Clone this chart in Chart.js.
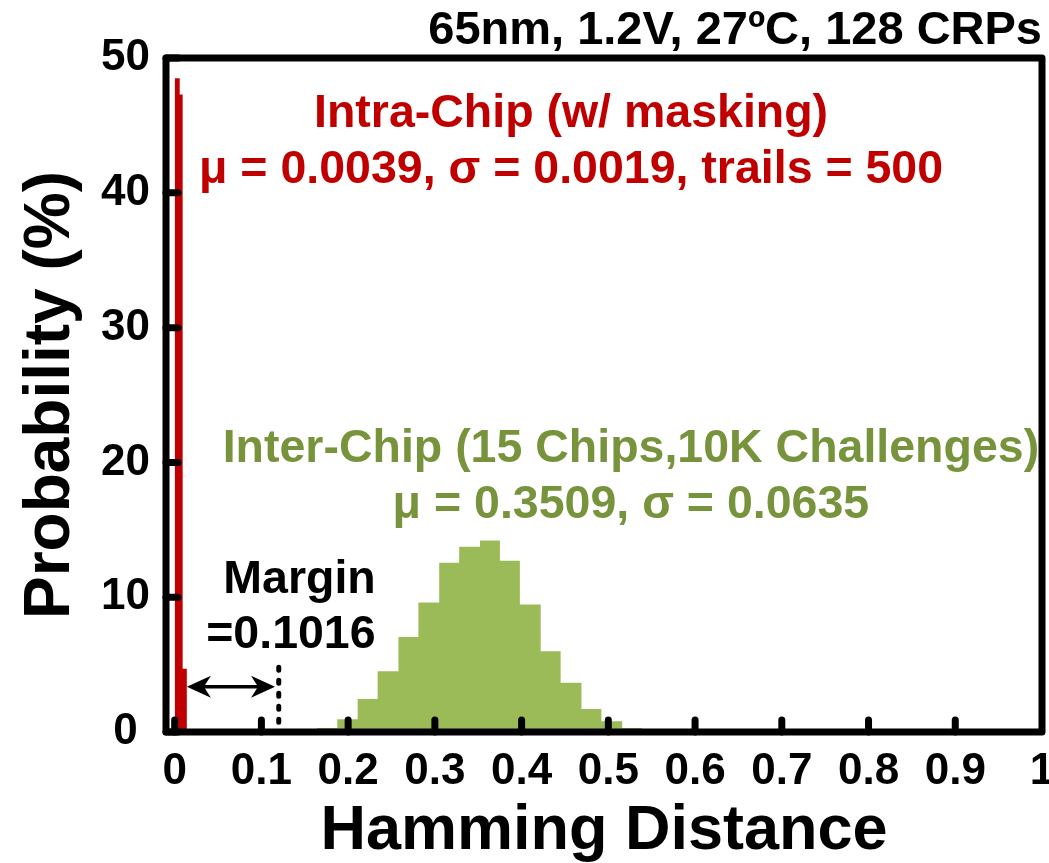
<!DOCTYPE html>
<html>
<head>
<meta charset="utf-8">
<script src="https://cdn.jsdelivr.net/npm/chart.js@4.4.1/dist/chart.umd.min.js"></script>
<style>
  html, body { margin: 0; padding: 0; background: #fff; }
  #wrap { width: 1049px; height: 863px; }
</style>
</head>
<body>
<div id="wrap"><canvas id="hd-chart"></canvas></div>
<script>
// bin edges (Hamming distance) and probability (%) per bin
const intraEdges = [0, 0.0058, 0.0092, 0.0141];
const intraProb = [48.5, 47.3, 4.7];
const interEdges = [0.164, 0.1875, 0.211, 0.234, 0.258, 0.281, 0.305, 0.328, 0.352,
  0.375, 0.398, 0.422, 0.445, 0.469, 0.492, 0.516, 0.539];
const interProb = [0.3, 0.95, 2.45, 4.5, 7.05, 9.6, 12.55, 13.75, 14.2, 12.7, 9.45,
  6.0, 3.65, 1.7, 0.8, 0.3];
const xTicks = [0, 0.1, 0.2, 0.3, 0.4, 0.5, 0.6, 0.7, 0.8, 0.9, 1];
const yTicks = [0, 10, 20, 30, 40, 50];
const margin = [0.0141, 0.1157];

const RED = '#c00000';
const GREEN = '#9bbb59';
const GREEN_TEXT = '#77933c';
const FONT = "'Liberation Sans', Arial, Helvetica, sans-serif";

// left edge of every bin carries its height, last edge closes back to 0
const toSteps = (edges, probs) => edges.map((x, i) => ({ x, y: i < probs.length ? probs[i] : 0 }));

const font = (size) => `bold ${size}px ${FONT}`;

const frame = {
  id: 'frame',
  afterDatasetsDraw(chart) {
    const { ctx, chartArea: a, scales: { x, y } } = chart;
    ctx.save();

    // inward tick marks
    ctx.strokeStyle = '#000';
    ctx.lineCap = 'round';
    ctx.lineWidth = 7;
    xTicks.slice(0, -1).forEach((v) => {
      const px = x.getPixelForValue(v);
      ctx.beginPath();
      ctx.moveTo(px, a.bottom);
      ctx.lineTo(px, a.bottom - 12);
      ctx.stroke();
    });
    yTicks.forEach((v) => {
      const py = y.getPixelForValue(v);
      ctx.beginPath();
      ctx.moveTo(a.left, py);
      ctx.lineTo(a.left + 12, py);
      ctx.stroke();
    });

    // box
    ctx.lineCap = 'butt';
    ctx.lineJoin = 'round';
    ctx.lineWidth = 7;
    ctx.strokeRect(a.left, a.top, a.right - a.left, a.bottom - a.top);

    // margin arrow + dashed marker
    const x0 = x.getPixelForValue(margin[0]);
    const x1 = x.getPixelForValue(margin[1]);
    const ay = y.getPixelForValue(3.35);
    ctx.lineWidth = 3.5;
    ctx.beginPath();
    ctx.moveTo(x0 + 14, ay);
    ctx.lineTo(x1 - 14, ay);
    ctx.stroke();
    ctx.fillStyle = '#000';
    [[x0, 1], [x1, -1]].forEach(([px, dir]) => {
      ctx.beginPath();
      ctx.moveTo(px, ay);
      ctx.lineTo(px + dir * 24, ay - 11);
      ctx.lineTo(px + dir * 17, ay);
      ctx.lineTo(px + dir * 24, ay + 11);
      ctx.closePath();
      ctx.fill();
    });
    const dx = x.getPixelForValue(0.12);
    ctx.lineWidth = 5;
    ctx.lineCap = 'round';
    ctx.setLineDash([3, 10]);
    ctx.beginPath();
    ctx.moveTo(dx, y.getPixelForValue(4.8));
    ctx.lineTo(dx, a.bottom - 3);
    ctx.stroke();
    ctx.setLineDash([]);

    // annotations
    ctx.textAlign = 'center';
    ctx.textBaseline = 'middle';
    ctx.font = font(46.5);
    const label = (text, vx, vy, color) => {
      ctx.fillStyle = color;
      ctx.fillText(text, x.getPixelForValue(vx), y.getPixelForValue(vy));
    };
    label('Intra-Chip (w/ masking)', 0.457, 45.8, RED);
    label('\u03bc = 0.0039, \u03c3 = 0.0019, trails = 500', 0.457, 41.7, RED);
    label('Inter-Chip (15 Chips,10K Challenges)', 0.526, 20.95, GREEN_TEXT);
    label('\u03bc = 0.3509, \u03c3 = 0.0635', 0.526, 16.85, GREEN_TEXT);
    label('Margin', 0.144, 11.3, '#000');
    label('=0.1016', 0.134, 7.2, '#000');
    ctx.restore();
  },
};

new Chart(document.getElementById('hd-chart'), {
  type: 'line',
  data: {
    datasets: [
      {
        label: 'Intra-Chip',
        data: toSteps(intraEdges, intraProb),
        stepped: true,
        fill: 'origin',
        backgroundColor: RED,
        borderColor: 'transparent',
        borderWidth: 0,
        pointRadius: 0,
      },
      {
        label: 'Inter-Chip',
        data: toSteps(interEdges, interProb),
        stepped: true,
        fill: 'origin',
        backgroundColor: GREEN,
        borderColor: 'transparent',
        borderWidth: 0,
        pointRadius: 0,
      },
    ],
  },
  options: {
    responsive: true,
    maintainAspectRatio: false,
    animation: false,
    layout: { padding: { top: 0, right: 7, bottom: 0, left: 0 } },
    plugins: {
      legend: { display: false },
      tooltip: { enabled: false },
      title: {
        display: true,
        text: '65nm, 1.2V, 27\u00baC, 128 CRPs',
        align: 'end',
        color: '#000',
        font: { family: FONT, size: 47, weight: 'bold', lineHeight: 1.15 },
        padding: { top: 4, bottom: 0 },
      },
    },
    scales: {
      x: {
        type: 'linear',
        min: -0.01,
        max: 1,
        grid: { display: false, drawTicks: false },
        border: { display: false },
        afterBuildTicks: (s) => { s.ticks = xTicks.map((value) => ({ value })); },
        afterFit: (s) => { s.height = 131; s.paddingLeft = 0; s.paddingRight = 0; },
        ticks: {
          color: '#000',
          padding: 13,
          maxRotation: 0,
          autoSkip: false,
          font: { family: FONT, size: 44, weight: 'bold' },
          callback: (v) => String(v),
        },
        title: {
          display: true,
          text: 'Hamming Distance',
          color: '#000',
          font: { family: FONT, size: 63, weight: 'bold', lineHeight: 1 },
          padding: { top: 0, bottom: 0 },
        },
      },
      y: {
        min: 0,
        max: 50,
        grid: { display: false, drawTicks: false },
        border: { display: false },
        afterBuildTicks: (s) => { s.ticks = yTicks.map((value) => ({ value })); },
        afterFit: (s) => { s.width = 166; s.paddingTop = 0; s.paddingBottom = 0; },
        ticks: {
          color: '#000',
          padding: 16,
          crossAlign: 'center',
          font: { family: FONT, size: 44, weight: 'bold' },
        },
        title: {
          display: true,
          text: 'Probability (%)',
          color: '#000',
          font: { family: FONT, size: 64, weight: 'bold', lineHeight: 1 },
          padding: { top: 19, bottom: 0 },
        },
      },
    },
  },
  plugins: [frame],
});
</script>
</body>
</html>
